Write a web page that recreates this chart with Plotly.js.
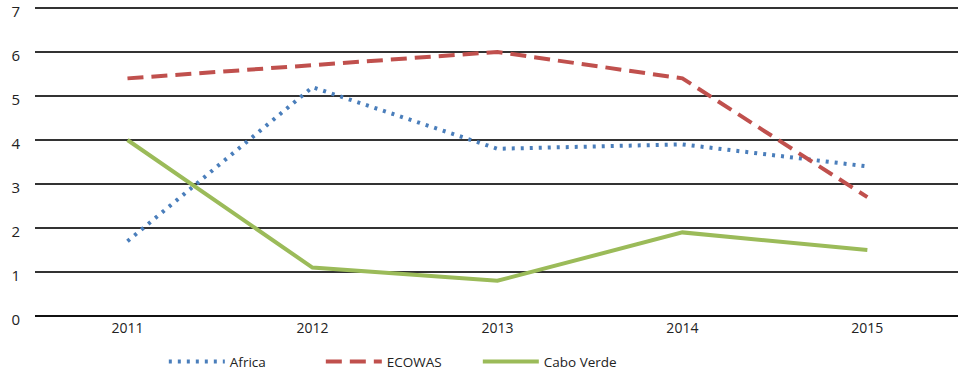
<!DOCTYPE html>
<html>
<head>
<meta charset="utf-8">
<script src="https://cdn.plot.ly/plotly-3.0.1.min.js"></script>
<style>html,body{margin:0;padding:0;background:#fff;}#chart{width:958px;height:373px;}</style>
</head>
<body>
<div id="chart"></div>
<script>
const years = ['2011', '2012', '2013', '2014', '2015'];
const africa = [1.7, 5.2, 3.8, 3.9, 3.4];
const ecowas = [5.4, 5.7, 6.0, 5.4, 2.7];
const caboVerde = [4.0, 1.1, 0.8, 1.9, 1.5];
const yTicks = [0, 1, 2, 3, 4, 5, 6, 7];

const traces = [
  {x: years, y: africa, name: 'Africa', type: 'scatter', mode: 'lines',
   line: {color: '#4a7ebb', width: 4, dash: '3px,6px'}},
  {x: years, y: ecowas, name: 'ECOWAS', type: 'scatter', mode: 'lines',
   line: {color: '#c0504d', width: 4, dash: '16px,8px'}},
  {x: years, y: caboVerde, name: 'Cabo Verde', type: 'scatter', mode: 'lines',
   line: {color: '#9bbb59', width: 4}}
];

const layout = {
  width: 958, height: 373,
  margin: {l: 35, r: 0, t: 4, b: 57},
  paper_bgcolor: '#fff', plot_bgcolor: '#fff',
  font: {family: 'Open Sans, sans-serif', size: 13, color: '#222'},
  showlegend: true,
  legend: {orientation: 'h', xref: 'container', yref: 'container',
           x: 0.171, xanchor: 'left', y: 0.03, yanchor: 'middle',
           font: {size: 13.5, color: '#222'}, itemwidth: 56, entrywidth: 86, traceorder: 'normal'},
  xaxis: {type: 'category', range: [-0.5, 4.49], showgrid: false, zeroline: false,
          showline: false, ticks: '', tickfont: {size: 14, color: '#222'}, ticklabelstandoff: 2,
          automargin: false},
  yaxis: {range: [0, 7.09], tickvals: yTicks, showgrid: true, gridcolor: '#333', gridwidth: 2,
          zeroline: true, zerolinecolor: '#111', zerolinewidth: 2.5, showline: false, ticks: '',
          tickfont: {size: 15, color: '#222'}, ticklabelstandoff: 14, ticklabelshift: 4,
          automargin: false, ticklabeloverflow: 'allow'}
};

Plotly.newPlot('chart', traces, layout, {displayModeBar: false, staticPlot: true});
</script>
</body>
</html>
